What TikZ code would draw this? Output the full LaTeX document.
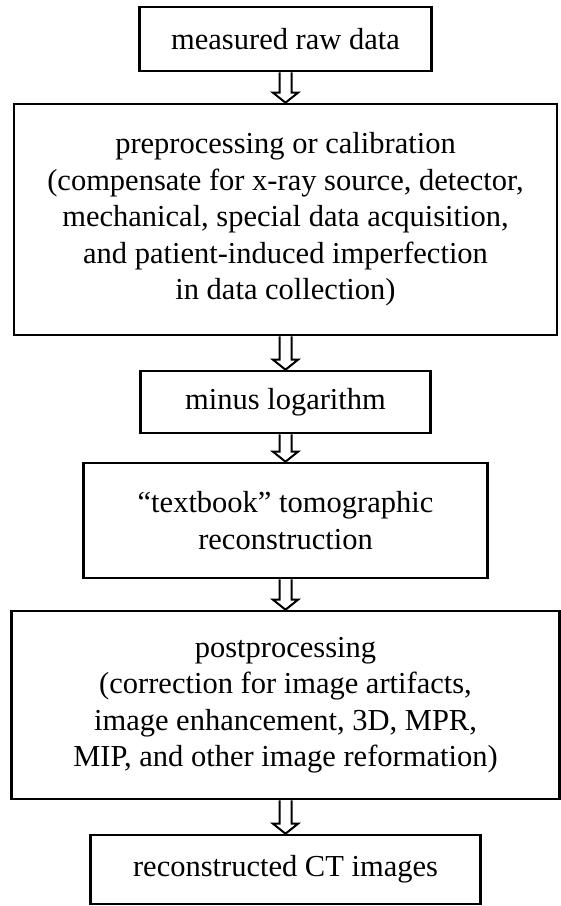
\documentclass[tikz,border=0pt]{standalone}
\usepackage{fontspec}
\setmainfont{Liberation Serif}
\usepackage{tikz}
\usetikzlibrary{calc}

\begin{document}
\begin{tikzpicture}[x=1pt, y=-1pt, box/.style={draw, line width=2.6pt, align=center, inner sep=0pt, font=\fontsize{30.5}{36.5}\selectfont}, flow/.style={line width=2pt, fill=white, line join=miter}]
	\useasboundingbox (0,0) rectangle (561,906);
	
	\node [box, minimum width=292pt, minimum height=64pt] (raw) at (285.5,39) {measured raw data};
	\node [box, minimum width=543pt, minimum height=231pt] (pre) at (285.5,219.5) {preprocessing or calibration\\(compensate for x-ray source, detector,\\mechanical, special data acquisition,\\and patient-induced imperfection\\in data collection)};
	\node [box, minimum width=290pt, minimum height=62pt] (mlog) at (285.5,402) {minus logarithm};
	\node [box, minimum width=404pt, minimum height=115pt] (tomo) at (285.5,520.5) {“textbook” tomographic\\reconstruction};
	\node [box, minimum width=548pt, minimum height=188pt] (post) at (285.5,705) {postprocessing\\(correction for image artifacts,\\image enhancement, 3D, MPR,\\MIP, and other image reformation)};
	\node [box, minimum width=390pt, minimum height=69pt] (ct) at (285.5,869.5) {reconstructed CT images};
	
	\foreach \a/\b in {raw/pre, pre/mlog, mlog/tomo, tomo/post, post/ct}
		\draw [flow] ($(\a.south)+(-6,0)$) -- ($(\b.north)+(-6,-10)$) -- ++(-6.5,0) -- (\b.north) -- ++(12.5,-10) -- ++(-6.5,0) -- ($(\a.south)+(6,0)$);
\end{tikzpicture}
\end{document}
